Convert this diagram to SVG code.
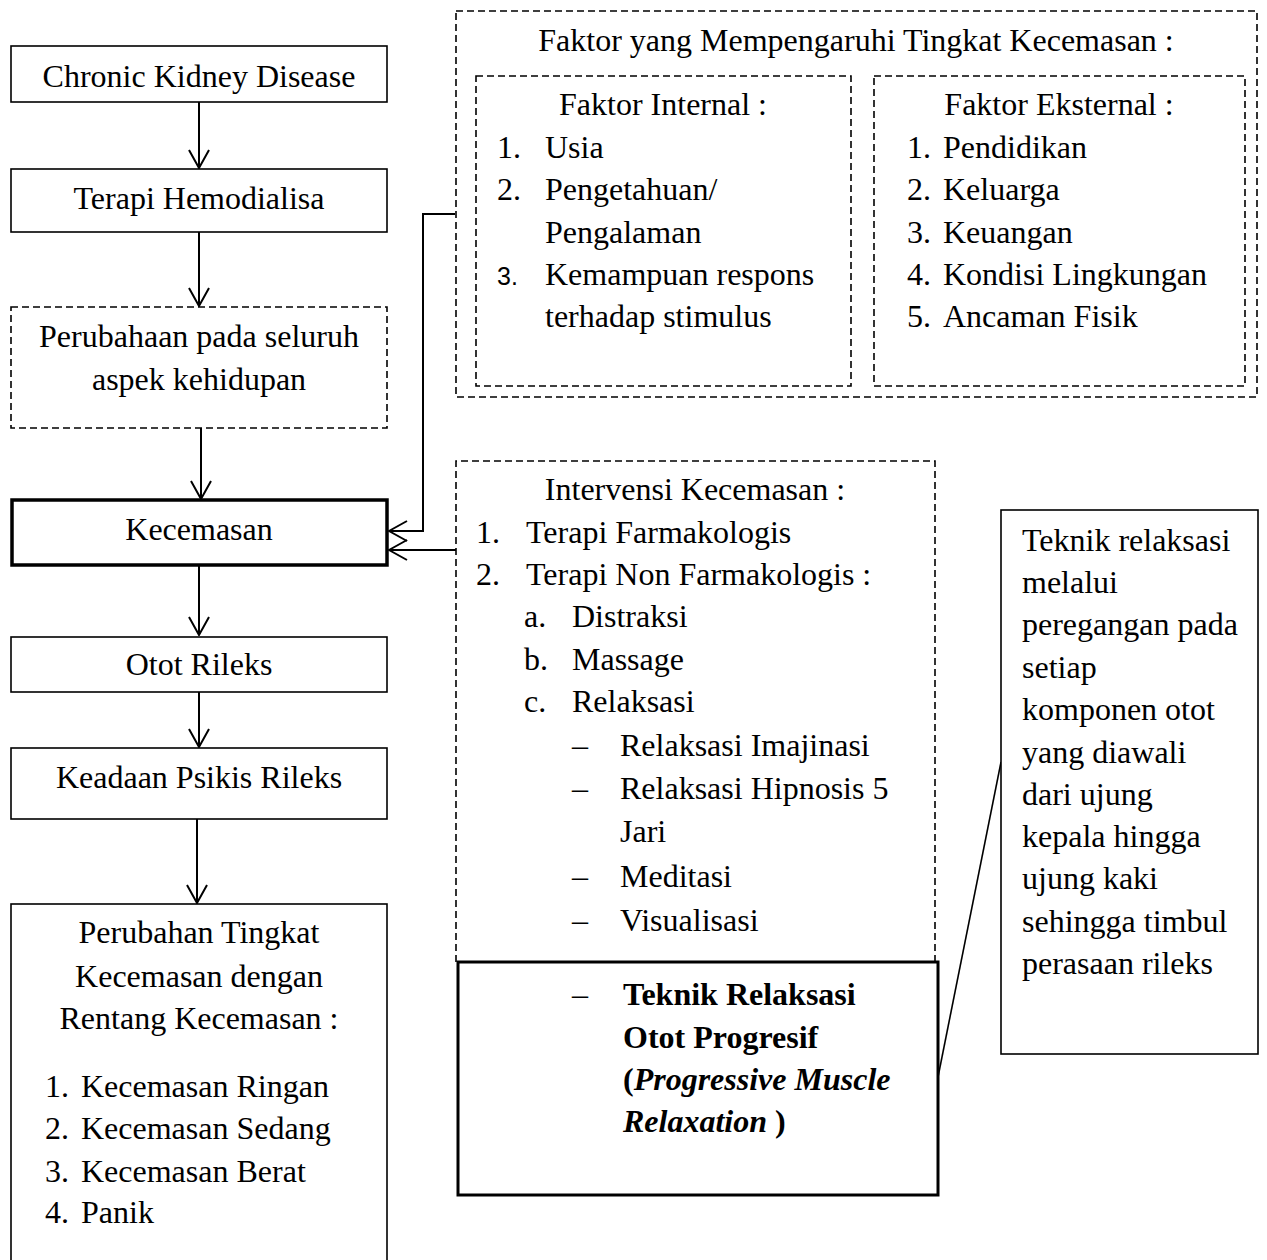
<svg xmlns="http://www.w3.org/2000/svg" width="1267" height="1260" viewBox="0 0 1267 1260">
<defs>
<style>
text{font-family:"Liberation Serif","Times New Roman",serif;font-size:32px;fill:#000}
.c{text-anchor:middle}
.box{fill:#fff;stroke:#000;stroke-width:1.6}
.dash{fill:none;stroke:#000;stroke-width:1.6;stroke-dasharray:7 4}
.thick{fill:#fff;stroke:#000;stroke-width:3.5}
.ln{fill:none;stroke:#000;stroke-width:2}
.b{font-weight:bold}
.bi{font-weight:bold;font-style:italic}
.sans{font-family:"Liberation Sans",Arial,sans-serif;font-size:25px}
</style>
<marker id="arr" viewBox="0 0 20 24" refX="19" refY="12" markerWidth="20" markerHeight="24" markerUnits="userSpaceOnUse" orient="auto">
<path d="M1,2 L19,12 L1,22" fill="none" stroke="#000" stroke-width="2"/>
</marker>
</defs>
<rect width="1267" height="1260" fill="#fff"/>

<g id="connectors">
<line class="ln" x1="199" y1="102" x2="199" y2="168" marker-end="url(#arr)"/>
<line class="ln" x1="199" y1="232" x2="199" y2="306" marker-end="url(#arr)"/>
<line class="ln" x1="201" y1="428" x2="201" y2="499" marker-end="url(#arr)"/>
<line class="ln" x1="199" y1="565" x2="199" y2="635" marker-end="url(#arr)"/>
<line class="ln" x1="199" y1="692" x2="199" y2="747" marker-end="url(#arr)"/>
<line class="ln" x1="197" y1="819" x2="197" y2="903" marker-end="url(#arr)"/>
<polyline class="ln" points="455,214 423,214 423,531 389,531" marker-end="url(#arr)"/>
<line class="ln" x1="456" y1="550" x2="389" y2="550" marker-end="url(#arr)"/>
<line x1="1001" y1="762" x2="937" y2="1082" stroke="#000" stroke-width="1.6"/>
</g>

<g id="n-ckd">
<rect class="box" x="11" y="46" width="376" height="56"/>
<text class="c" x="199" y="87">Chronic Kidney Disease</text>
</g>
<g id="n-hemodialisa">
<rect class="box" x="11" y="169" width="376" height="63"/>
<text class="c" x="199" y="209">Terapi Hemodialisa</text>
</g>
<g id="n-perubahan">
<rect class="dash" x="11" y="307" width="376" height="121"/>
<text class="c" x="199" y="347">Perubahaan pada seluruh</text>
<text class="c" x="199" y="390">aspek kehidupan</text>
</g>
<g id="n-kecemasan">
<rect class="thick" x="12" y="500" width="375" height="65"/>
<text class="c" x="199" y="540">Kecemasan</text>
</g>
<g id="n-otot">
<rect class="box" x="11" y="637" width="376" height="55"/>
<text class="c" x="199" y="675">Otot Rileks</text>
</g>
<g id="n-psikis">
<rect class="box" x="11" y="748" width="376" height="71"/>
<text class="c" x="199" y="788">Keadaan Psikis Rileks</text>
</g>
<g id="n-tingkat">
<rect class="box" x="11" y="904" width="376" height="370"/>
<text class="c" x="199" y="943">Perubahan Tingkat</text>
<text class="c" x="199" y="987">Kecemasan dengan</text>
<text class="c" x="199" y="1029">Rentang Kecemasan :</text>
<text x="45" y="1097">1.</text><text x="81" y="1097">Kecemasan Ringan</text>
<text x="45" y="1139">2.</text><text x="81" y="1139">Kecemasan Sedang</text>
<text x="45" y="1182">3.</text><text x="81" y="1182">Kecemasan Berat</text>
<text x="45" y="1223">4.</text><text x="81" y="1223">Panik</text>
</g>

<g id="n-faktor">
<rect class="dash" x="456" y="11" width="801" height="386"/>
<text class="c" x="856" y="51">Faktor yang Mempengaruhi Tingkat Kecemasan :</text>
</g>
<g id="n-internal">
<rect class="dash" x="476" y="76" width="375" height="310"/>
<text class="c" x="663" y="115">Faktor Internal :</text>
<text x="497" y="158">1.</text><text x="545" y="158">Usia</text>
<text x="497" y="200">2.</text><text x="545" y="200">Pengetahuan/</text>
<text x="545" y="243">Pengalaman</text>
<text class="sans" x="497" y="285">3.</text><text x="545" y="285">Kemampuan respons</text>
<text x="545" y="327">terhadap stimulus</text>
</g>
<g id="n-eksternal">
<rect class="dash" x="874" y="76" width="371" height="310"/>
<text class="c" x="1059" y="115">Faktor Eksternal :</text>
<text x="907" y="158">1.</text><text x="943" y="158">Pendidikan</text>
<text x="907" y="200">2.</text><text x="943" y="200">Keluarga</text>
<text x="907" y="243">3.</text><text x="943" y="243">Keuangan</text>
<text x="907" y="285">4.</text><text x="943" y="285">Kondisi Lingkungan</text>
<text x="907" y="327">5.</text><text x="943" y="327">Ancaman Fisik</text>
</g>

<g id="n-intervensi">
<polyline class="dash" points="456,962 456,461 935,461 935,962"/>
<text class="c" x="695" y="500">Intervensi Kecemasan :</text>
<text x="476" y="543">1.</text><text x="526" y="543">Terapi Farmakologis</text>
<text x="476" y="585">2.</text><text x="526" y="585">Terapi Non Farmakologis :</text>
<text x="524" y="627">a.</text><text x="572" y="627">Distraksi</text>
<text x="524" y="670">b.</text><text x="572" y="670">Massage</text>
<text x="524" y="712">c.</text><text x="572" y="712">Relaksasi</text>
<text x="572" y="756">–</text><text x="620" y="756">Relaksasi Imajinasi</text>
<text x="572" y="799">–</text><text x="620" y="799">Relaksasi Hipnosis 5</text>
<text x="620" y="842">Jari</text>
<text x="572" y="887">–</text><text x="620" y="887">Meditasi</text>
<text x="572" y="931">–</text><text x="620" y="931">Visualisasi</text>
</g>
<g id="n-pmr">
<rect class="thick" x="458" y="962" width="480" height="233" style="stroke-width:3"/>
<text x="572" y="1005">–</text><text class="b" x="623" y="1005">Teknik Relaksasi</text>
<text class="b" x="623" y="1048">Otot Progresif</text>
<text class="b" x="623" y="1090">(<tspan class="bi">Progressive Muscle</tspan></text>
<text class="b" x="623" y="1132"><tspan class="bi">Relaxation</tspan> )</text>
</g>
<g id="n-keterangan">
<rect class="box" x="1001" y="510" width="257" height="544"/>
<text x="1022" y="551">Teknik relaksasi</text>
<text x="1022" y="593">melalui</text>
<text x="1022" y="635">peregangan pada</text>
<text x="1022" y="678">setiap</text>
<text x="1022" y="720">komponen otot</text>
<text x="1022" y="763">yang diawali</text>
<text x="1022" y="805">dari ujung</text>
<text x="1022" y="847">kepala hingga</text>
<text x="1022" y="889">ujung kaki</text>
<text x="1022" y="932">sehingga timbul</text>
<text x="1022" y="974">perasaan rileks</text>
</g>
</svg>
